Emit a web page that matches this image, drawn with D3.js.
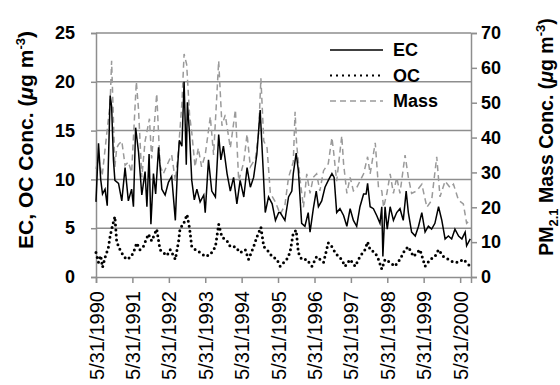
<!DOCTYPE html>
<html>
<head>
<meta charset="utf-8">
<script src="https://cdn.jsdelivr.net/npm/d3@7"></script>
<style>
  body { margin: 0; background: #fff; }
  text { font-family: "Liberation Sans", Arial, sans-serif; }
</style>
</head>
<body>
<div id="chart"></div>
<script>
// decimal years + values
var ecYear = [1990.41,1990.48,1990.54,1990.59,1990.66,1990.72,1990.80,1990.84,1990.89,1990.93,1991.03,1991.12,1991.21,1991.30,1991.39,1991.44,1991.50,1991.58,1991.67,1991.76,1991.81,1991.87,1991.92,1991.99,1992.05,1992.13,1992.22,1992.31,1992.40,1992.49,1992.59,1992.65,1992.70,1992.77,1992.83,1992.89,1992.92,1992.98,1993.04,1993.11,1993.18,1993.27,1993.37,1993.41,1993.50,1993.59,1993.69,1993.78,1993.84,1993.91,1994.01,1994.10,1994.19,1994.28,1994.37,1994.47,1994.56,1994.65,1994.74,1994.83,1994.92,1995.00,1995.06,1995.15,1995.25,1995.34,1995.43,1995.47,1995.60,1995.70,1995.79,1995.83,1995.91,1995.97,1996.06,1996.15,1996.24,1996.29,1996.38,1996.46,1996.52,1996.61,1996.70,1996.79,1996.89,1996.95,1997.02,1997.11,1997.21,1997.30,1997.39,1997.48,1997.57,1997.66,1997.76,1997.83,1997.87,1997.94,1998.03,1998.12,1998.21,1998.26,1998.29,1998.35,1998.41,1998.49,1998.58,1998.67,1998.76,1998.85,1998.93,1998.99,1999.08,1999.18,1999.27,1999.36,1999.45,1999.54,1999.63,1999.72,1999.82,1999.91,2000.00,2000.09,2000.18,2000.27,2000.37,2000.46,2000.55,2000.59,2000.69];
var ecVal = [7.7,13.7,10,8.5,9,7.3,18.6,17.5,12,9.9,9.6,7.8,11.2,7.8,9,7.2,15.3,12.8,8.4,10.8,7.2,12.6,5.4,10.6,8.5,13.3,9,8.4,9.7,10.3,5.8,11.2,14,13.4,20,11.5,17.9,14.6,9.9,7.9,9,7.7,8.4,6.6,12,8.8,8.2,14.6,12,13.4,10.6,8.8,10.2,7.5,9.9,8.2,11.2,9.2,10.2,12.6,17.1,11.2,6.6,8.2,7.5,5.8,6.6,6.6,5.8,8.2,8.8,10.6,12.7,10.9,5.5,5.2,6.6,4.6,7,8.8,7.2,7.8,9.2,9.9,10.6,10.2,6.6,7,6.3,5.2,7,5.8,5.2,7.2,8.5,8.5,9.6,7.2,7,6.3,5.5,7.2,2.1,7.2,4.9,7.2,5.8,6.6,7,5.8,8.8,6.6,4.6,4.2,5.2,6.6,4.6,5.2,4.9,5.5,7.2,5.8,3.9,4.2,3.9,4.9,4.2,3.9,4.6,3.2,3.9];

var ocYear = [1990.41,1990.48,1990.54,1990.59,1990.66,1990.75,1990.80,1990.86,1990.93,1990.98,1991.07,1991.16,1991.25,1991.35,1991.44,1991.53,1991.62,1991.71,1991.85,1991.94,1992.08,1992.17,1992.26,1992.36,1992.45,1992.59,1992.68,1992.72,1992.81,1992.91,1992.98,1993.04,1993.14,1993.27,1993.41,1993.55,1993.69,1993.78,1993.87,1994.01,1994.10,1994.24,1994.37,1994.51,1994.60,1994.74,1994.83,1994.94,1995.02,1995.11,1995.25,1995.38,1995.47,1995.65,1995.74,1995.83,1995.91,1995.97,1996.06,1996.20,1996.34,1996.47,1996.66,1996.79,1996.89,1996.98,1997.07,1997.16,1997.25,1997.39,1997.53,1997.66,1997.80,1997.87,1997.94,1998.08,1998.17,1998.26,1998.35,1998.49,1998.62,1998.76,1998.90,1998.99,1999.13,1999.31,1999.45,1999.59,1999.72,1999.82,1999.95,2000.09,2000.23,2000.37,2000.50,2000.69];
var ocVal = [2.5,1.5,2.2,1.0,2.0,3.0,4.2,5.2,6.2,3.6,2.8,2.2,1.8,2.0,2.5,3.5,2.8,3.1,4.4,3.7,4.9,2.8,2.5,2.2,2.8,1.8,3.7,5.0,5.4,6.4,5.0,3.1,2.8,2.5,2.1,2.3,3.1,5.4,4.1,3.7,3.1,3.1,2.5,2.8,1.8,3.1,4.1,5.1,3.1,2.8,2.1,1.8,1.1,1.8,2.5,4.5,4.8,2.5,1.8,1.8,1.1,2.1,1.5,3.5,3.1,2.5,2.1,1.8,1.1,1.8,1.1,2.1,2.8,3.6,2.8,2.5,1.8,0.8,1.8,1.5,1.1,1.8,2.8,3.1,2.1,2.8,1.1,1.8,2.1,2.8,2.1,1.8,1.5,1.5,1.8,1.1];

var massYear = [1990.41,1990.48,1990.58,1990.80,1990.84,1990.93,1990.98,1991.03,1991.12,1991.21,1991.30,1991.39,1991.52,1991.58,1991.67,1991.76,1991.88,1991.94,1992.08,1992.17,1992.26,1992.40,1992.49,1992.59,1992.68,1992.77,1992.83,1992.90,1992.98,1993.04,1993.13,1993.22,1993.31,1993.41,1993.55,1993.64,1993.78,1993.87,1993.96,1994.10,1994.24,1994.33,1994.47,1994.56,1994.65,1994.79,1994.88,1994.94,1995.02,1995.11,1995.20,1995.34,1995.47,1995.60,1995.70,1995.83,1995.88,1995.92,1996.01,1996.11,1996.20,1996.29,1996.38,1996.47,1996.56,1996.66,1996.79,1996.89,1996.93,1997.02,1997.16,1997.21,1997.30,1997.39,1997.48,1997.57,1997.66,1997.76,1997.87,1997.94,1998.08,1998.17,1998.26,1998.31,1998.40,1998.49,1998.58,1998.67,1998.76,1998.90,1998.99,1999.08,1999.22,1999.36,1999.50,1999.63,1999.77,1999.86,2000.00,2000.14,2000.23,2000.37,2000.50,2000.59,2000.69];
var massVal = [31,34,29,50,62,31.6,37,38,39,32,33,30,56,48,28.6,39,45.4,34,52.6,32,29.6,33,35,27.5,37,50,64,61,46.5,41.5,31.6,37,31.6,35,46,35,62,43.4,46.5,37,48,27.5,33,41,31.6,34,41.5,57,39,37,24,21.5,18,20.6,28.6,33,47.4,38.5,28.6,20,29.6,24,28.6,29.6,24.7,30.5,32.5,40,36.5,27.5,40.5,32.5,24,28.6,24.7,25.6,27.5,29.6,34.5,29.6,38.5,25.6,24.7,20,24,29.6,24,28.6,24,35,28.6,24,24.7,26.6,20,22,34.5,23,27.5,25.6,26.6,22,21,15.4,16.4];

var yTicksLeft = [0, 5, 10, 15, 20, 25];
var yTicksRight = [0, 10, 20, 30, 40, 50, 60, 70];
var xTickYears = [1990, 1991, 1992, 1993, 1994, 1995, 1996, 1997, 1998, 1999, 2000];
var seriesNames = ["EC", "OC", "Mass"];

var width = 560, height = 385;
var margin = {top: 33, right: 89, bottom: 108, left: 96};
var w = width - margin.left - margin.right;
var h = height - margin.top - margin.bottom;
var grey = "#8e8e8e";

function toDate(y) {
  var yr = Math.floor(y);
  var a = new Date(yr, 0, 1), b = new Date(yr + 1, 0, 1);
  return new Date(+a + (y - yr) * (b - a));
}

var svg = d3.select("#chart").append("svg")
  .attr("width", width)
  .attr("height", height);

var g = svg.append("g").attr("transform", `translate(${margin.left},${margin.top})`);

var x = d3.scaleTime().domain([new Date(1990, 4, 31), toDate(2000.71)]).range([0, w]);
var yL = d3.scaleLinear().domain([0, 25]).range([h, 0]);
var yR = d3.scaleLinear().domain([0, 70]).range([h, 0]);

// gridlines
g.append("g").selectAll("line")
  .data(yTicksLeft.slice(1))
  .enter().append("line")
  .attr("x1", 0).attr("x2", w)
  .attr("y1", d => yL(d)).attr("y2", d => yL(d))
  .attr("stroke", grey).attr("stroke-width", 1.5);

var axisL = g.append("g")
  .call(d3.axisLeft(yL).tickValues(yTicksLeft).tickSize(5).tickPadding(16));
var axisR = g.append("g")
  .attr("transform", `translate(${w},0)`)
  .call(d3.axisRight(yR).tickValues(yTicksRight).tickSize(6).tickPadding(4));
var axisB = g.append("g")
  .attr("transform", `translate(0,${h})`)
  .call(d3.axisBottom(x).tickValues(xTickYears.map(y => new Date(y, 4, 31)))
    .tickFormat(d3.timeFormat("%-m/%-d/%Y")).tickSize(6));

[axisL, axisR, axisB].forEach(function(a) {
  a.select(".domain").attr("stroke", grey).attr("stroke-width", 1.5);
  a.selectAll(".tick line").attr("stroke", grey).attr("stroke-width", 1.5);
});
axisL.selectAll(".tick text").attr("font-size", 18).attr("font-weight", "bold")
  .attr("font-family", "Liberation Sans, Arial, sans-serif").attr("fill", "#000");
axisR.selectAll(".tick text").attr("font-size", 18).attr("font-weight", "bold")
  .attr("font-family", "Liberation Sans, Arial, sans-serif").attr("fill", "#000");
axisB.selectAll(".tick text")
  .attr("font-size", 20).attr("font-family", "Liberation Sans, Arial, sans-serif").attr("fill", "#000")
  .attr("text-anchor", "end")
  .attr("transform", "rotate(-90)")
  .attr("x", -14).attr("y", 0).attr("dy", "0.35em");

// series
var massLine = d3.line().x((d, i) => x(toDate(massYear[i]))).y(d => yR(d));
var ecLine = d3.line().x((d, i) => x(toDate(ecYear[i]))).y(d => yL(d));
var ocLine = d3.line().x((d, i) => x(toDate(ocYear[i]))).y(d => yL(d));

g.append("path").datum(massVal).attr("d", massLine)
  .attr("fill", "none").attr("stroke", "#9a9a9a").attr("stroke-width", 1.5)
  .attr("stroke-dasharray", "6,4");
g.append("path").datum(ocVal).attr("d", ocLine)
  .attr("fill", "none").attr("stroke", "#000").attr("stroke-width", 3)
  .attr("stroke-linecap", "round")
  .attr("stroke-dasharray", "0,5");
g.append("path").datum(ecVal).attr("d", ecLine)
  .attr("fill", "none").attr("stroke", "#000").attr("stroke-width", 1.5);

// legend
var styles = [
  {stroke: "#000", width: 1.5, dash: null},
  {stroke: "#000", width: 2, dash: "2,4"},
  {stroke: "#9a9a9a", width: 1.5, dash: "6,4"}
];
var legend = svg.append("g").attr("transform", "translate(330,50)");
var item = legend.selectAll("g").data(seriesNames).enter().append("g")
  .attr("transform", (d, i) => `translate(0,${i * 25.5})`);
item.append("line").attr("x1", 0).attr("x2", 53).attr("y1", 0).attr("y2", 0)
  .attr("stroke", (d, i) => styles[i].stroke)
  .attr("stroke-width", (d, i) => styles[i].width)
  .attr("stroke-dasharray", (d, i) => styles[i].dash);
item.append("text").attr("x", 63).attr("dy", "0.36em")
  .attr("font-size", 18).attr("font-weight", "bold").text(d => d);

// axis titles
var tL = svg.append("text")
  .attr("transform", "translate(33,140) rotate(-90)")
  .attr("text-anchor", "middle").attr("font-size", 21).attr("font-weight", "bold");
tL.append("tspan").text("EC, OC Conc. (");
tL.append("tspan").attr("font-style", "italic").text("\u03bc");
tL.append("tspan").text("g m");
tL.append("tspan").attr("font-size", 13).attr("dy", -8).text("-3");
tL.append("tspan").attr("dy", 8).text(")");

var tR = svg.append("text")
  .attr("transform", "translate(553,137) rotate(-90)")
  .attr("text-anchor", "middle").attr("font-size", 19.5).attr("font-weight", "bold");
tR.append("tspan").text("PM");
tR.append("tspan").attr("font-size", 13).attr("dy", 5).text("2.1");
tR.append("tspan").attr("dy", -5).text(" Mass Conc. (");
tR.append("tspan").attr("font-style", "italic").text("\u03bc");
tR.append("tspan").text("g m");
tR.append("tspan").attr("font-size", 13).attr("dy", -8).text("-3");
tR.append("tspan").attr("dy", 8).text(")");
</script>
</body>
</html>
